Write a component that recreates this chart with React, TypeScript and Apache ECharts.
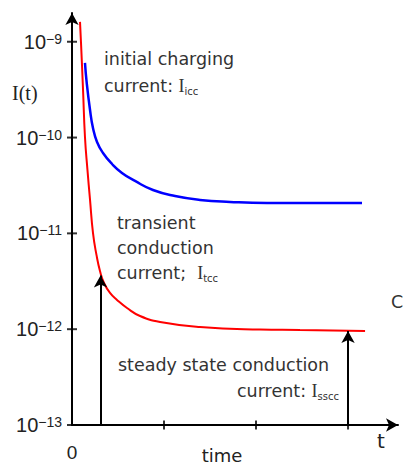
import React, { useEffect, useRef } from 'react';
import * as echarts from 'echarts';

// time (axis units, tick = 1) and log10 of current
const redTime = [0.087, 0.098, 0.12, 0.141, 0.168, 0.196, 0.228, 0.266, 0.304, 0.348, 0.413, 0.489, 0.598, 0.739, 0.957, 1.391, 2.043, 2.478, 3.185];
const redLog10 = [-8.793, -9.013, -9.503, -9.994, -10.338, -10.651, -10.996, -11.225, -11.392, -11.518, -11.622, -11.695, -11.779, -11.862, -11.925, -11.977, -12.003, -12.008, -12.019];
const blueTime = [0.141, 0.16, 0.196, 0.228, 0.272, 0.337, 0.435, 0.543, 0.685, 0.88, 1.12, 1.391, 1.717, 2.12, 3.152];
const blueLog10 = [-9.221, -9.43, -9.712, -9.9, -10.046, -10.161, -10.276, -10.369, -10.453, -10.547, -10.61, -10.651, -10.672, -10.683, -10.683];
const yTickExponents = [-13, -12, -11, -10, -9];
const xTickValues = [1, 2, 3];
const xLabelValues = [0];
const arrowTimes = [0.31, 3];
const arrowTipLog10 = [-11.44, -12.02];

const Y_MIN = -13;
const Y_MAX = -8.7;
const X_MIN = 0;
const X_MAX = 3.543;

const TXT = '#333';
const FONT = 'DejaVu Sans';

export default function App() {
  const ref = useRef<HTMLDivElement>(null);
  useEffect(() => {
    if (!ref.current) return;
    const chart = echarts.init(ref.current, undefined, { renderer: 'svg' });
    const red = redTime.map((t, i) => [t, redLog10[i]]);
    const blue = blueTime.map((t, i) => [t, blueLog10[i]]);
    const arrows = arrowTimes.map((t, i) => [
      { coord: [t, Y_MIN] },
      { coord: [t, arrowTipLog10[i]] },
    ]);
    const axisLineStyle = { color: '#000', width: 2 };
    const richLabel = {
      b: { fontSize: 20, lineHeight: 20, fontFamily: 'Liberation Sans', color: '#222' },
      s: { fontSize: 14, lineHeight: 14, fontFamily: 'Liberation Sans', color: '#222', verticalAlign: 'top' },
    };
    const sub = { fontSize: 10, lineHeight: 10, fontFamily: FONT, fill: TXT, verticalAlign: 'bottom' };
    const nrm = { fontSize: 17.5, lineHeight: 20, fontFamily: FONT, fill: TXT };
    const ii = { fontSize: 18, lineHeight: 20, fontFamily: 'Liberation Serif', fill: TXT };
    const rich = { n: nrm, I: ii, sub };
    const txt = (x: number, y: number, text: string, align = 'left') => ({
      type: 'text',
      x,
      y,
      silent: true,
      style: {
        text,
        rich,
        fill: TXT,
        font: `17.5px "${FONT}"`,
        align,
        verticalAlign: 'middle',
      },
    });
    chart.setOption({
      animation: false,
      backgroundColor: '#fff',
      grid: { left: 72, top: 13, width: 326, height: 412, containLabel: false },
      xAxis: {
        type: 'value',
        min: X_MIN,
        max: X_MAX,
        position: 'bottom',
        axisLine: { show: true, lineStyle: axisLineStyle, symbol: ['none', 'arrow'], symbolSize: [10, 12] },
        axisTick: { show: false },
        axisLabel: {
          show: true,
          customValues: xLabelValues,
          formatter: (v: number) => String(v),
          fontSize: 19,
          fontFamily: 'Liberation Sans',
          color: '#222',
          margin: 18,
        },
        splitLine: { show: false },
      },
      yAxis: {
        type: 'value',
        min: Y_MIN,
        max: Y_MAX,
        position: 'left',
        axisLine: { show: true, lineStyle: axisLineStyle, symbol: ['none', 'arrow'], symbolSize: [10, 12] },
        axisTick: { show: false },
        axisLabel: {
          show: true,
          customValues: yTickExponents,
          formatter: (v: number) => `{b|10}{s|\u2212${-v}}`,
          rich: richLabel,
          margin: 10,
        },
        splitLine: { show: false },
      },
      series: [
        {
          // tick marks crossing the y axis
          type: 'scatter',
          data: yTickExponents.map((e) => [X_MIN, e]),
          symbol: 'rect',
          symbolSize: [10, 2],
          itemStyle: { color: '#000' },
          silent: true,
          clip: false,
          z: 5,
        },
        {
          // tick marks crossing the x axis
          type: 'scatter',
          data: xTickValues.map((t) => [t, Y_MIN]),
          symbol: 'rect',
          symbolSize: [2, 9],
          itemStyle: { color: '#000' },
          silent: true,
          clip: false,
          z: 5,
        },
        {
          type: 'line',
          data: blue,
          smooth: 0.5,
          showSymbol: false,
          lineStyle: { color: '#0000ff', width: 2.5 },
          itemStyle: { color: '#0000ff' },
          silent: true,
          z: 3,
        },
        {
          type: 'line',
          data: red,
          smooth: 0.5,
          showSymbol: false,
          lineStyle: { color: '#ff0000', width: 2 },
          itemStyle: { color: '#ff0000' },
          silent: true,
          z: 3,
          markLine: {
            silent: true,
            symbol: ['none', 'arrow'],
            symbolSize: [10, 12],
            label: { show: false },
            lineStyle: { color: '#000', width: 2, type: 'solid' },
            itemStyle: { color: '#000' },
            emphasis: { disabled: true },
            data: arrows,
          },
        },
      ],
      graphic: [
        {
          type: 'text',
          x: 12,
          y: 93,
          silent: true,
          style: { text: 'I(t)', font: '20px "Liberation Serif"', fill: '#222', verticalAlign: 'middle' },
        },
        txt(104, 59, '{n|initial charging}'),
        txt(104, 86, '{n|current: }{I|I}{sub|icc}'),
        txt(117, 223, '{n|transient}'),
        txt(117, 248, '{n|conduction}'),
        txt(117, 273, '{n|current;  }{I|I}{sub|tcc}'),
        txt(118, 365, '{n|steady state conduction}'),
        txt(339, 391, '{n|current: }{I|I}{sub|sscc}', 'right'),
        txt(391, 302, '{n|C}'),
        {
          type: 'text',
          x: 222,
          y: 455,
          silent: true,
          style: { text: 'time', font: `18px "${FONT}"`, fill: '#222', align: 'center', verticalAlign: 'middle' },
        },
        {
          type: 'text',
          x: 381,
          y: 441,
          silent: true,
          style: { text: 't', font: `20px "${FONT}"`, fill: '#222', align: 'center', verticalAlign: 'middle' },
        },
      ],
    });
    return () => chart.dispose();
  }, []);
  return (
    <div
      ref={ref}
      style={{ position: 'absolute', left: 0, top: 0, width: 405, height: 467, background: '#fff' }}
    />
  );
}
